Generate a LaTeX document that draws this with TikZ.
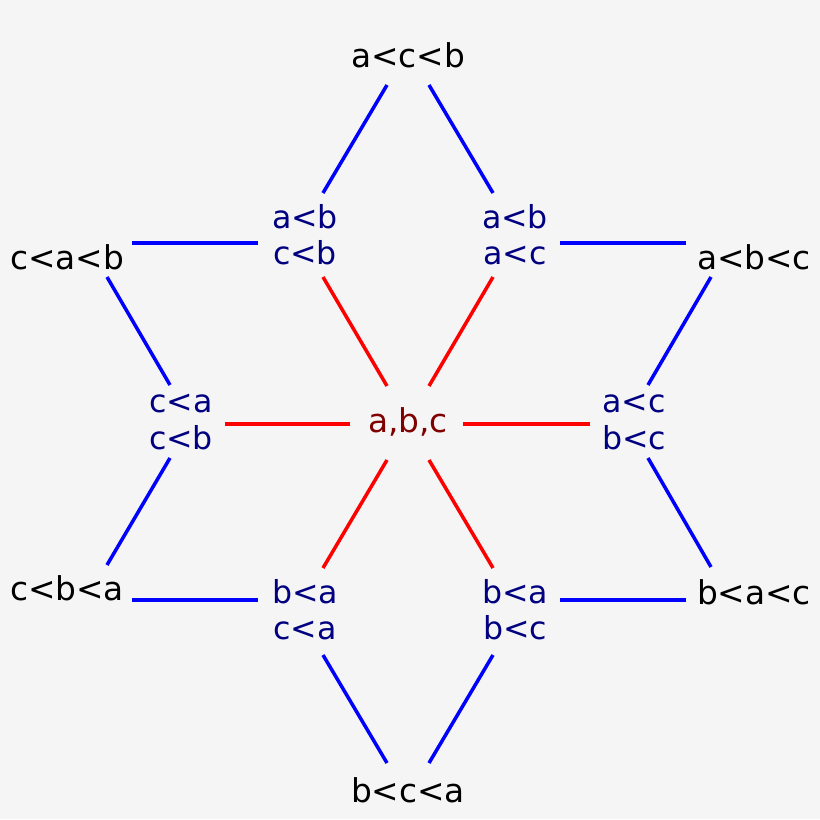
\documentclass[tikz,border=0pt]{standalone}
\usepackage{fontspec}
\setmainfont{DejaVu Sans}
\definecolor{bgcol}{HTML}{F5F5F5}
\definecolor{innercol}{HTML}{000080}
\definecolor{centercol}{HTML}{800000}
\tikzset{
  order/.style={font=\fontsize{28}{33}\selectfont, inner sep=3pt, align=center},
  pair/.style={order, font=\fontsize{27}{31}\selectfont, text=innercol},
  blueedge/.style={blue, line width=3pt},
  rededge/.style={red, line width=3pt}
}
% \link{style}{from}{offset}{to}{offset}
\newcommand{\link}[5]{\draw[#1] ([shift={(#3)}]#2.center) -- ([shift={(#5)}]#4.center);}
\begin{document}
\begin{tikzpicture}[x=0.03cm, y=-0.03cm]
\fill[bgcol] (0,0) rectangle (820,819);

\node[order] (acb) at (408,55) {a<c<b};
\node[order] (cab) at (67,257) {c<a<b};
\node[order] (abc) at (754,257) {a<b<c};
\node[order] (cba) at (67,588) {c<b<a};
\node[order] (bac) at (754,592) {b<a<c};
\node[order] (bca) at (408,790) {b<c<a};

\node[pair] (AbCb) at (305,235) {a<b\\c<b};
\node[pair] (AbAc) at (515,235) {a<b\\a<c};
\node[pair] (CaCb) at (181,422) {c<a\\c<b};
\node[pair] (AcBc) at (634,422) {a<c\\b<c};
\node[pair] (BaCa) at (305,610) {b<a\\c<a};
\node[pair] (BaBc) at (515,610) {b<a\\b<c};

\node[order, text=centercol] (all) at (408,422) {a,b,c};

\link{blueedge}{acb}{-21,30}{AbCb}{18,-42}
\link{blueedge}{acb}{21,30}{AbAc}{-22,-42}
\link{blueedge}{cab}{65,-14}{AbCb}{-47,8}
\link{blueedge}{cab}{40,20}{CaCb}{-11,-37}
\link{blueedge}{abc}{-68,-14}{AbAc}{45,8}
\link{blueedge}{abc}{-43,20}{AcBc}{14,-37}
\link{blueedge}{cba}{40,-23}{CaCb}{-11,36}
\link{blueedge}{cba}{65,12}{BaCa}{-47,-10}
\link{blueedge}{bac}{-43,-25}{AcBc}{14,36}
\link{blueedge}{bac}{-68,8}{BaBc}{45,-10}
\link{blueedge}{bca}{-21,-27}{BaCa}{18,45}
\link{blueedge}{bca}{21,-27}{BaBc}{-22,45}

\link{rededge}{all}{-21,-36}{AbCb}{18,42}
\link{rededge}{all}{21,-36}{AbAc}{-22,42}
\link{rededge}{all}{-58,2}{CaCb}{44,2}
\link{rededge}{all}{55,2}{AcBc}{-44,2}
\link{rededge}{all}{-21,38}{BaCa}{18,-42}
\link{rededge}{all}{21,38}{BaBc}{-22,-42}
\end{tikzpicture}
\end{document}
